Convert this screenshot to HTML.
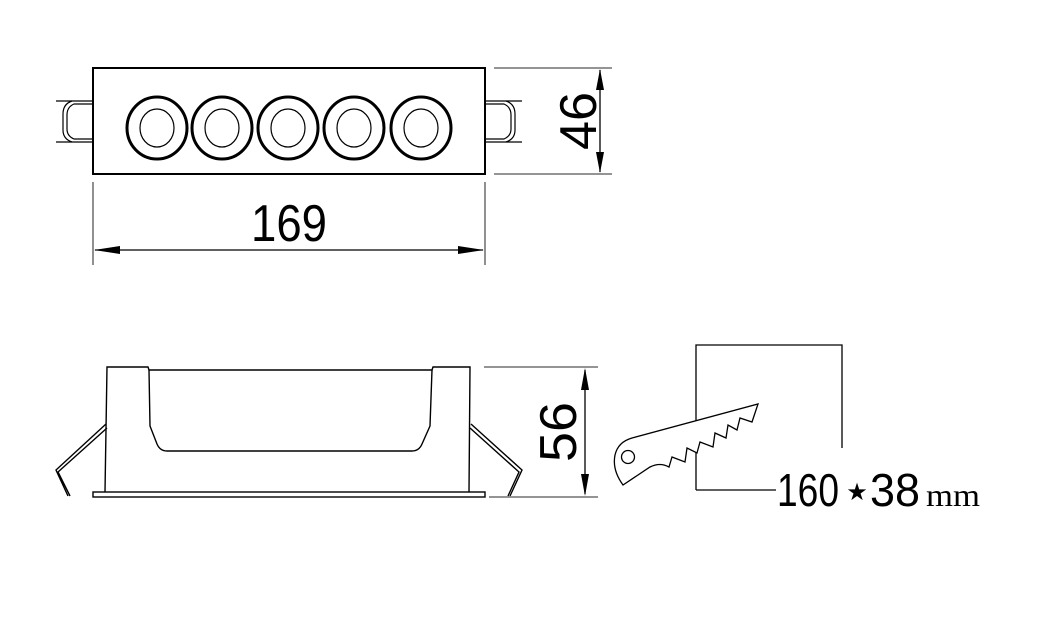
<!DOCTYPE html>
<html><head><meta charset="utf-8"><style>html,body{margin:0;padding:0;background:#fff}svg{display:block}</style></head>
<body>
<svg width="1048" height="638" viewBox="0 0 1048 638" xmlns="http://www.w3.org/2000/svg" fill="none" stroke="#000">
<!-- top view -->
<rect x="93" y="68" width="392" height="106" stroke-width="2"/>
<g stroke-width="3">
<ellipse cx="157" cy="128" rx="30" ry="31"/><ellipse cx="222" cy="128" rx="30" ry="31"/><ellipse cx="288" cy="128" rx="30" ry="31"/><ellipse cx="354" cy="128" rx="30" ry="31"/><ellipse cx="421" cy="128" rx="30" ry="31"/>
</g>
<g stroke-width="1.2">
<ellipse cx="157" cy="128" rx="17" ry="19"/><ellipse cx="222" cy="128" rx="17" ry="19"/><ellipse cx="288" cy="128" rx="17" ry="19"/><ellipse cx="354" cy="128" rx="17" ry="19"/><ellipse cx="421" cy="128" rx="17" ry="19"/>
<!-- left clip -->
<path d="M93 101 H72 Q63 104 63 114 V130 Q63 139 72 142 H93"/>
<path d="M93 104 H74 Q67 107 67 115 V129 Q67 136 74 139 H93"/>
<path d="M72 101 H56 M72 142 H56"/>
<!-- right clip -->
<path d="M485 101 H506 Q515 104 515 114 V130 Q515 139 506 142 H485"/>
<path d="M485 104 H504 Q511 107 511 115 V129 Q511 136 504 139 H485"/>
<path d="M506 101 H522 M506 142 H522"/>
</g>
<!-- dims top -->
<g stroke="#555" stroke-width="1.3">
<path d="M494 68 H612 M494 174 H612 M93 182 V265 M485 182 V265"/>
</g>
<g stroke-width="1.3">
<path d="M600 70 V172 M95 250 H483"/>
</g>
<g fill="#000" stroke="none">
<path d="M600 69 L596 90 L604 90Z M600 173 L596 152 L604 152Z M94 250 L120 246 L120 254Z M484 250 L458 246 L458 254Z"/>
<text x="289" y="241" font-family="Liberation Sans Narrow, Liberation Sans, sans-serif" font-size="52" text-anchor="middle" textLength="76" lengthAdjust="spacingAndGlyphs">169</text>
<text transform="translate(596,121) rotate(-90)" font-family="Liberation Sans, sans-serif" font-size="52" text-anchor="middle" textLength="58" lengthAdjust="spacingAndGlyphs">46</text>
<text transform="translate(576,432) rotate(-90)" font-family="Liberation Sans, sans-serif" font-size="52" text-anchor="middle" textLength="60" lengthAdjust="spacingAndGlyphs">56</text>
</g>
<!-- side view -->
<g stroke-width="1.4">
<path d="M105 492 L107 367 H148 L149 370 H432 L433 367 H470 L469 492"/>
<path d="M149 370 L150 426 L157 444 Q160 451 167 451 H412 Q419 451 422 444 L430 426 L432 370"/>
<rect x="93" y="492" width="392" height="5"/>
<path d="M106 424 L56 470 L68 496 M107 428 L58 472 L70 496"/>
<path d="M471 424 L522 470 L510 496 M470 428 L519 472 L508 496"/>
</g>
<g stroke="#555" stroke-width="1.3"><path d="M484 367 H598 M489 497 H598"/></g>
<path d="M585 370 V494" stroke-width="1.3"/>
<g fill="#000" stroke="none"><path d="M585 368 L581 390 L589 390Z M585 496 L581 474 L589 474Z"/></g>
<!-- cut-out icon -->
<g stroke-width="1.3">
<path d="M696 490 V345 H842 V448"/>
<path d="M696 490 H776"/>
<path d="M632 438 L758 404 L752 422 L740 418 L737 430 L728 425 L726 438 L715 433 L713 447 L700 442 L697 453 L687 448 L685 462 L672 457 L669 467 Q660 462 650 467 L623 485 Q612 470 615 455 Q618 442 632 438Z" fill="#fff"/>
<circle cx="628" cy="457" r="6.5"/>
</g>
<g fill="#000" stroke="none">
<text x="777" y="506" font-family="Liberation Sans Narrow, Liberation Sans, sans-serif" font-size="46" textLength="62" lengthAdjust="spacingAndGlyphs">160</text>
<text x="857" y="500" font-family="DejaVu Sans, sans-serif" font-size="24" text-anchor="middle">★</text>
<text x="870" y="506" font-family="Liberation Sans Narrow, Liberation Sans, sans-serif" font-size="46" textLength="50" lengthAdjust="spacingAndGlyphs">38</text>
<text x="926" y="506" font-family="Liberation Serif, serif" font-size="32" textLength="54" lengthAdjust="spacingAndGlyphs">mm</text>
</g>
</svg>
</body></html>
